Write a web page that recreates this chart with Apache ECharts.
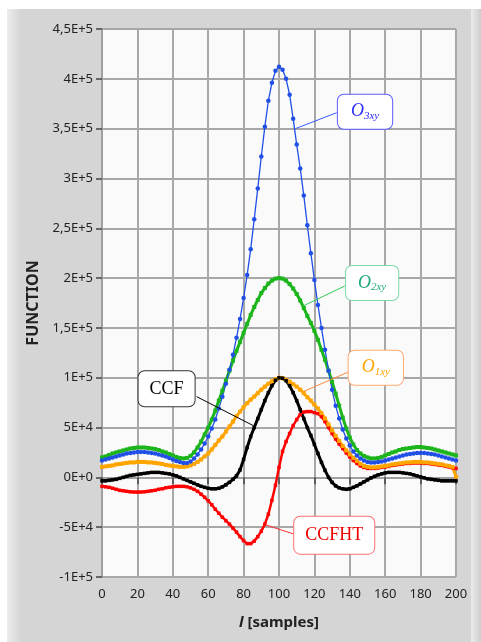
<!DOCTYPE html>
<html><head><meta charset="utf-8">
<script src="https://cdn.jsdelivr.net/npm/echarts@6/dist/echarts.min.js"></script>
<style>html,body{margin:0;padding:0;background:#fff}#c{width:481px;height:642px}</style>
</head><body><div id="c"></div>
<script>
// lag l [samples]
const samples = [0,2,4,6,8,10,12,14,16,18,20,22,24,26,28,30,32,34,36,38,40,42,44,46,48,50,52,54,56,58,60,62,64,66,68,70,72,74,76,78,80,82,84,86,88,90,92,94,96,98,100,102,104,106,108,110,112,114,116,118,120,122,124,126,128,130,132,134,136,138,140,142,144,146,148,150,152,154,156,158,160,162,164,166,168,170,172,174,176,178,180,182,184,186,188,190,192,194,196,198,200];

// all series values in units of 1E+4
const o3xy = [1.7,1.8,1.9,2.0,2.1,2.2,2.3,2.4,2.45,2.5,2.55,2.55,2.55,2.5,2.45,2.4,2.3,2.2,2.1,1.95,1.8,1.65,1.55,1.45,1.45,1.6,1.9,2.3,2.8,3.4,4.1,4.9,5.8,6.9,8.1,9.4,10.8,12.3,14.0,15.9,18.0,20.3,22.9,25.9,29.0,32.2,35.2,37.8,39.6,40.8,41.2,40.9,40.0,38.4,36.0,33.4,31.0,28.3,25.3,22.5,19.8,17.3,15.0,12.8,10.7,8.8,7.2,5.9,4.8,3.9,3.2,2.6,2.2,1.9,1.7,1.55,1.5,1.5,1.55,1.6,1.7,1.8,1.9,2.0,2.1,2.2,2.3,2.35,2.4,2.45,2.45,2.45,2.4,2.35,2.3,2.2,2.1,2.0,1.9,1.8,1.7];

const o2xy = [2.0,2.1,2.25,2.4,2.5,2.6,2.7,2.8,2.9,2.95,3.0,3.0,3.0,2.95,2.9,2.85,2.75,2.6,2.5,2.35,2.2,2.05,1.95,1.9,1.95,2.15,2.5,3.0,3.6,4.3,5.0,5.8,6.7,7.7,8.7,9.7,10.7,11.7,12.7,13.6,14.5,15.4,16.3,17.1,17.8,18.5,19.0,19.45,19.75,19.95,20.0,19.95,19.75,19.4,18.95,18.4,17.75,17.0,16.2,15.5,14.7,13.8,12.8,11.8,10.7,9.6,8.4,7.2,6.0,4.9,4.0,3.3,2.75,2.4,2.15,2.0,1.9,1.9,1.95,2.05,2.2,2.35,2.5,2.6,2.75,2.85,2.9,2.95,3.0,3.05,3.05,3.0,2.95,2.9,2.8,2.7,2.6,2.5,2.4,2.3,2.2];

const o1xy = [1.05,1.1,1.15,1.2,1.3,1.35,1.4,1.45,1.5,1.5,1.55,1.55,1.55,1.5,1.5,1.45,1.4,1.35,1.25,1.2,1.15,1.1,1.05,1.05,1.1,1.2,1.35,1.55,1.8,2.1,2.4,2.8,3.25,3.7,4.1,4.6,5.1,5.6,6.15,6.6,7.05,7.45,7.8,8.1,8.45,8.8,9.1,9.4,9.65,9.85,10.0,9.95,9.8,9.6,9.35,9.1,8.8,8.45,8.05,7.7,7.3,6.9,6.45,5.9,5.3,4.7,4.15,3.65,3.15,2.7,2.3,1.95,1.65,1.35,1.15,1.05,1.0,1.0,1.05,1.1,1.15,1.2,1.3,1.35,1.4,1.45,1.5,1.5,1.55,1.55,1.55,1.5,1.5,1.45,1.4,1.35,1.3,1.2,1.15,1.05,0.05];

const ccf = [-0.35,-0.35,-0.3,-0.25,-0.2,-0.1,0.0,0.1,0.2,0.25,0.3,0.35,0.4,0.45,0.5,0.5,0.5,0.45,0.4,0.35,0.25,0.15,0.0,-0.15,-0.3,-0.45,-0.6,-0.75,-0.9,-1.0,-1.1,-1.15,-1.15,-1.1,-0.95,-0.75,-0.5,-0.2,0.15,0.75,1.8,3.0,4.1,5.0,5.9,6.8,7.7,8.5,9.2,9.75,10.0,9.95,9.7,9.2,8.5,7.7,6.8,5.9,5.0,4.2,3.3,2.4,1.5,0.7,0.0,-0.5,-0.85,-1.05,-1.15,-1.2,-1.15,-1.0,-0.85,-0.65,-0.45,-0.25,-0.05,0.1,0.25,0.35,0.45,0.5,0.5,0.5,0.5,0.45,0.4,0.35,0.25,0.15,0.05,-0.05,-0.15,-0.2,-0.25,-0.3,-0.35,-0.35,-0.35,-0.35,-0.35];

const ccfht = [-0.9,-0.95,-1.0,-1.1,-1.2,-1.3,-1.35,-1.4,-1.45,-1.47,-1.48,-1.47,-1.45,-1.4,-1.35,-1.3,-1.2,-1.15,-1.05,-1.0,-0.95,-0.9,-0.9,-0.9,-0.95,-1.05,-1.2,-1.4,-1.7,-2.0,-2.35,-2.75,-3.2,-3.6,-4.0,-4.35,-4.7,-5.1,-5.5,-5.95,-6.35,-6.65,-6.65,-6.4,-5.95,-5.4,-4.7,-3.7,-2.3,-0.8,1.0,2.6,3.6,4.4,5.2,5.8,6.3,6.55,6.6,6.6,6.5,6.4,6.1,5.6,5.0,4.4,3.85,3.35,2.9,2.45,2.05,1.7,1.4,1.15,1.0,0.9,0.9,0.9,0.95,1.0,1.05,1.1,1.2,1.25,1.3,1.35,1.4,1.4,1.45,1.45,1.45,1.4,1.4,1.35,1.3,1.25,1.2,1.1,1.05,0.95,0.9];

const yTickLabels = ['-1E+5','-5E+4','0E+0','5E+4','1E+5','1,5E+5','2E+5','2,5E+5','3E+5','3,5E+5','4E+5','4,5E+5'];
const UNIT = 1e4;
const Y_MIN = -1e5, Y_MAX = 4.5e5, Y_STEP = 5e4;

const pairs = vals => samples.map((l, i) => [l, vals[i] * UNIT]);
const serif = 'Liberation Serif';

function note(formatter, rich, boxAt, from, to, border, lineColor, pad) {
  return {
    markPoint: {
      silent: true, animation: false, symbol: 'rect', symbolSize: 1,
      itemStyle: { color: 'rgba(0,0,0,0)' },
      label: {
        show: true, position: 'inside', formatter: formatter,
        backgroundColor: '#ffffff', borderColor: border, borderWidth: 1,
        borderRadius: 6, padding: pad, rich: rich
      },
      data: [{ coord: [boxAt[0], boxAt[1] * UNIT] }]
    },
    markLine: {
      silent: true, animation: false, symbol: ['none', 'none'],
      label: { show: false },
      lineStyle: { color: lineColor, width: 1, type: 'solid' },
      emphasis: { disabled: true },
      data: [[{ coord: [from[0], from[1] * UNIT] }, { coord: [to[0], to[1] * UNIT] }]]
    }
  };
}

const subRich = (c) => ({
  o: { fontFamily: serif, fontStyle: 'italic', fontSize: 18, color: c, lineHeight: 20 },
  s: { fontFamily: serif, fontStyle: 'italic', fontSize: 11, color: c, lineHeight: 12, verticalAlign: 'bottom' }
});
const plainRich = (c) => ({ t: { fontFamily: serif, fontSize: 18, color: c, lineHeight: 20 } });

const nO3 = note('{o|O}{s|3xy}', subRich('#2f2fff'), [148.6, 36.7], [109.3, 35.0], [132.6, 36.6], '#5b5bff', '#3a5cff', [7, 13, 7, 13]);
const nO2 = note('{o|O}{s|2xy}', subRich('#1fa878'), [152.6, 19.5], [113.6, 17.2], [137.1, 19.2], '#7fd8a8', '#33cc55', [7, 12, 7, 12]);
const nO1 = note('{o|O}{s|1xy}', subRich('#ffa500'), [154.7, 11.0], [113.6, 8.6], [138.9, 10.55], '#ffaa70', '#ff8a3a', [7, 13, 7, 13]);
const nCCF = note('{t|CCF}', plainRich('#000'), [36.5, 8.9], [85.4, 5.2], [53.5, 8.1], '#333333', '#000000', [8, 11, 7, 11]);
const nHT = note('{t|CCFHT}', plainRich('#ee0000'), [131.2, -5.8], [93.0, -4.8], [107.9, -5.66], '#ff7070', '#ff3030', [9, 11, 8, 11]);

function line(name, vals, color, width, symbol, size, n) {
  return Object.assign({
    name: name, type: 'line', data: pairs(vals), color: color,
    lineStyle: { width: width, color: color }, itemStyle: { color: color },
    symbol: symbol, symbolSize: size, showSymbol: true, showAllSymbol: true,
    smooth: false, animation: false, silent: true
  }, n);
}

const chart = echarts.init(document.getElementById('c'));
chart.setOption({
  animation: false,
  textStyle: { fontFamily: 'Noto Sans' },
  graphic: [
    { type: 'rect', z: -10, shape: { x: 7, y: 9, width: 466, height: 633 }, style: { fill: '#d5d5d5' } },
    { type: 'rect', z: -9, shape: { x: 7, y: 9, width: 14, height: 633 },
      style: { fill: new echarts.graphic.LinearGradient(0, 0, 1, 0, [{ offset: 0, color: '#ececec' }, { offset: 1, color: '#d5d5d5' }]) } },
    { type: 'rect', z: -9, shape: { x: 471, y: 9, width: 10, height: 633 },
      style: { fill: new echarts.graphic.LinearGradient(0, 0, 1, 0, [{ offset: 0, color: '#ebebeb' }, { offset: 1, color: '#cdcdcd' }]) } }
  ],
  grid: { left: 102, top: 29, width: 354, height: 548, show: true, backgroundColor: '#fafafa', borderWidth: 0 },
  xAxis: {
    type: 'value', min: 0, max: 200, interval: 20,
    name: '{i|l} [samples]', nameLocation: 'middle', nameGap: 38,
    nameTextStyle: { fontSize: 15, fontWeight: 'bold', color: '#222', fontFamily: 'Noto Sans',
      rich: { i: { fontSize: 15, fontWeight: 'bold', fontStyle: 'italic', color: '#222', fontFamily: 'Noto Sans' } } },
    axisLine: { show: true, lineStyle: { color: '#a0a0a0', width: 2 } },
    axisTick: { show: true, length: 7, lineStyle: { color: '#444', width: 1.5 } },
    axisLabel: { fontSize: 13, color: '#222', margin: 11 },
    splitLine: { show: true, lineStyle: { color: '#a8a8a8', width: 2 } }
  },
  yAxis: {
    type: 'value', min: Y_MIN, max: Y_MAX, interval: Y_STEP,
    name: 'FUNCTION', nameLocation: 'middle', nameGap: 59,
    nameTextStyle: { fontSize: 16, fontWeight: 'bold', color: '#222' },
    axisLine: { show: true, lineStyle: { color: '#a0a0a0', width: 2 } },
    axisTick: { show: true, length: 6, lineStyle: { color: '#444', width: 1.5 } },
    axisLabel: { fontSize: 13, color: '#222', margin: 9,
      formatter: v => yTickLabels[Math.round((v - Y_MIN) / Y_STEP)] },
    splitLine: { show: true, lineStyle: { color: '#a8a8a8', width: 2 } }
  },
  series: [
    line('CCFHT', ccfht, '#ff0000', 2.5, 'rect', 3.5, nHT),
    line('O1xy', o1xy, '#ffa500', 3, 'rect', 4, nO1),
    line('O2xy', o2xy, '#1cb51c', 3, 'rect', 4, nO2),
    line('O3xy', o3xy, '#1f4fe6', 1.3, 'circle', 4.5, nO3),
    line('CCF', ccf, '#000000', 3, 'rect', 3.5, nCCF)
  ]
});
</script></body></html>
